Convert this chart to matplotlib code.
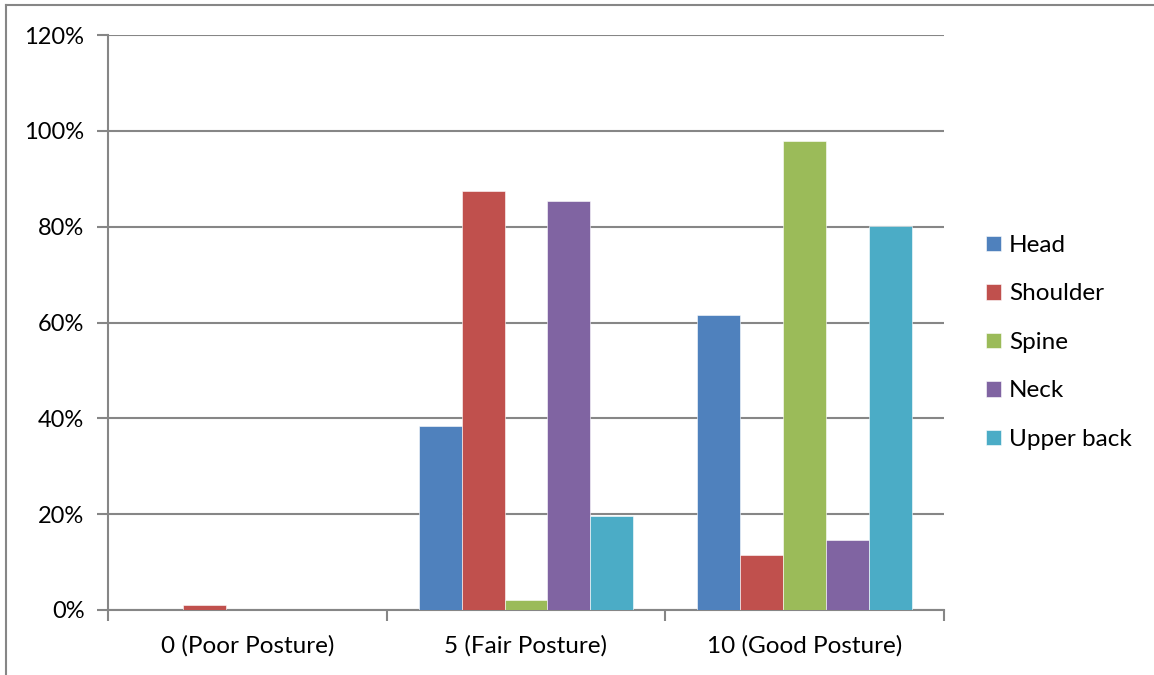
import matplotlib
matplotlib.use("Agg")
import matplotlib.pyplot as plt
import numpy as np
from matplotlib.lines import Line2D
from matplotlib.ticker import FuncFormatter

categories = ["0 (Poor Posture)", "5 (Fair Posture)", "10 (Good Posture)"]
series = ["Head", "Shoulder", "Spine", "Neck", "Upper back"]
head = [0.0, 38.5, 61.6]
shoulder = [1.0, 87.5, 11.5]
spine = [0.0, 2.0, 97.9]
neck = [0.0, 85.4, 14.6]
upper_back = [0.0, 19.7, 80.1]
values = [head, shoulder, spine, neck, upper_back]
colors = ["#4F81BD", "#C0504D", "#9BBB59", "#8064A2", "#4BACC6"]
yticks = [0, 20, 40, 60, 80, 100, 120]

plt.rcParams['font.family'] = ['Lato', 'DejaVu Sans']
W, H = 1154, 675
fig = plt.figure(figsize=(W / 100, H / 100), dpi=100)
ax = fig.add_axes([108 / W, 1 - 610 / H, (944 - 108) / W, (610 - 35) / H])

gray = "#868686"
n = len(series)
bw = 1 / 6.5
x = np.arange(len(categories))
for i, (name, vals, c) in enumerate(zip(series, values, colors)):
    ax.bar(x + (i - (n - 1) / 2) * bw, vals, width=bw, color=c, label=name,
           edgecolor="white", linewidth=0.4, zorder=3)

ax.set_xlim(-0.5, len(categories) - 0.5)
ax.set_ylim(0, 120)
ax.set_yticks(yticks)
ax.yaxis.set_major_formatter(FuncFormatter(lambda v, p: f"{int(v)}%"))
ax.set_xticks(x)
ax.set_xticklabels(categories)
ax.set_xticks(np.arange(len(categories) + 1) - 0.5, minor=True)
ax.tick_params(axis='x', which='major', length=0, pad=18, labelsize=17.5)
ax.tick_params(axis='x', which='minor', length=8, color=gray, width=1.5, direction='out')
ax.tick_params(axis='y', length=8, color=gray, width=1.5, direction='out', pad=9, labelsize=17)
ax.grid(axis='y', color=gray, linewidth=1.5, zorder=0)
for s in ["top", "right"]:
    ax.spines[s].set_visible(False)
for s in ["left", "bottom"]:
    ax.spines[s].set_color(gray)
    ax.spines[s].set_linewidth(1.5)

fig.legend(loc="upper left", bbox_to_anchor=(986 / W, 1 - 235 / H), frameon=False,
           fontsize=17.5, handlelength=0.6, handleheight=0.6, handletextpad=0.35,
           labelspacing=1.13, borderaxespad=0, borderpad=0)

fig.add_artist(Line2D([6 / W, 1], [1 - 5 / H, 1 - 5 / H], color=gray, linewidth=1.5))
fig.add_artist(Line2D([6 / W, 6 / W], [0, 1 - 5 / H], color=gray, linewidth=1.5))

fig.savefig("out.png", dpi=100)
